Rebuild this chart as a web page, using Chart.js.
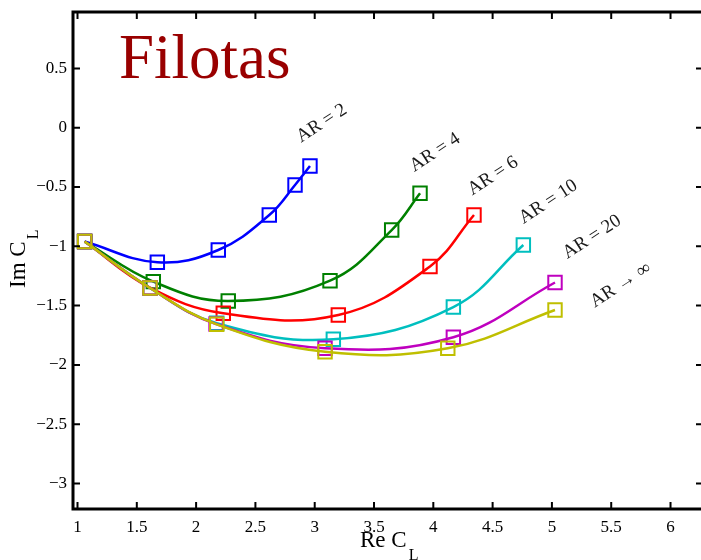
<!DOCTYPE html>
<html><head><meta charset="utf-8">
<script src="https://cdn.jsdelivr.net/npm/chart.js@4.4.0/dist/chart.umd.min.js"></script>
<style>html,body{margin:0;padding:0;background:#fff;}</style>
</head><body>
<canvas id="c" width="701" height="560" style="display:block;width:701px;height:560px"></canvas>
<script>
// ---- data ----
const xTicks = [1, 1.5, 2, 2.5, 3, 3.5, 4, 4.5, 5, 5.5, 6];
const xTickLabels = ['1', '1.5', '2', '2.5', '3', '3.5', '4', '4.5', '5', '5.5', '6'];
const yTicks = [-3, -2.5, -2, -1.5, -1, -0.5, 0, 0.5];
const yTickLabels = ['\u22123', '\u22122.5', '\u22122', '\u22121.5', '\u22121', '\u22120.5', '0', '0.5'];
const seriesNames = ['AR = 2', 'AR = 4', 'AR = 6', 'AR = 10', 'AR = 20', 'AR \u2192 \u221E'];
const reAR2 = [1.06, 1.673, 2.187, 2.617, 2.834, 2.960];
const imAR2 = [-0.96, -1.135, -1.031, -0.736, -0.483, -0.323];
const reAR4 = [1.06, 1.639, 2.271, 3.129, 3.649, 3.888];
const imAR4 = [-0.96, -1.298, -1.461, -1.290, -0.863, -0.553];
const reAR6 = [1.06, 1.611, 2.229, 3.199, 3.972, 4.343];
const imAR6 = [-0.96, -1.349, -1.565, -1.579, -1.170, -0.736];
const reAR10 = [1.06, 1.611, 2.174, 3.157, 4.169, 4.759];
const imAR10 = [-0.96, -1.352, -1.649, -1.784, -1.512, -0.989];
const reAR20 = [1.06, 1.611, 2.168, 3.087, 4.169, 5.026];
const imAR20 = [-0.96, -1.352, -1.655, -1.860, -1.767, -1.305];
const reARinf = [1.06, 1.611, 2.174, 3.087, 4.122, 5.026];
const imARinf = [-0.96, -1.352, -1.658, -1.889, -1.860, -1.537];
// label anchor positions (data coords)
const labelX = [3.059, 4.014, 4.503, 4.970, 5.338, 5.580];
const labelY = [0.037, -0.209, -0.407, -0.625, -0.922, -1.326];

const colors = ['#0000FF', '#008000', '#FF0000', '#00BFBF', '#BF00BF', '#BFBF00'];
const reAll = [reAR2, reAR4, reAR6, reAR10, reAR20, reARinf];
const imAll = [imAR2, imAR4, imAR6, imAR10, imAR20, imARinf];

const serif = '"Liberation Serif", "Times New Roman", serif';

const datasets = reAll.map((re, i) => ({
  label: seriesNames[i],
  data: re.map((v, k) => ({x: v, y: imAll[i][k]})),
  borderColor: colors[i],
  backgroundColor: 'rgba(0,0,0,0)',
  borderWidth: 2.5,
  tension: 0.4,
  pointStyle: 'rect',
  pointRadius: 9.5,
  pointBorderWidth: 2,
  pointBorderColor: colors[i],
  pointBackgroundColor: 'rgba(0,0,0,0)',
  order: 5 - i,
  showLine: true,
  fill: false
}));

const zeroPad = s => { s.paddingTop = 0; s.paddingBottom = 0; s.paddingLeft = 0; s.paddingRight = 0; };

const decor = {
  id: 'decor',
  afterDatasetsDraw(chart) {
    const {ctx, chartArea: a, scales: {x, y}} = chart;
    ctx.save();
    ctx.strokeStyle = '#000';
    ctx.lineWidth = 2;
    ctx.beginPath();
    xTicks.forEach(v => {
      const px = x.getPixelForValue(v);
      ctx.moveTo(px, a.bottom); ctx.lineTo(px, a.bottom - 7);
      ctx.moveTo(px, a.top); ctx.lineTo(px, a.top + 7);
    });
    yTicks.forEach(v => {
      const py = y.getPixelForValue(v);
      ctx.moveTo(a.left, py); ctx.lineTo(a.left + 7, py);
      ctx.moveTo(a.right + 2, py); ctx.lineTo(a.right - 5, py);
    });
    ctx.stroke();
    ctx.lineWidth = 3;
    ctx.beginPath();
    ctx.moveTo(a.right + 3, a.top);
    ctx.lineTo(a.left, a.top);
    ctx.lineTo(a.left, a.bottom);
    ctx.lineTo(a.right + 3, a.bottom);
    ctx.stroke();

    // title
    ctx.fillStyle = '#990000';
    ctx.font = '63px ' + serif;
    ctx.textAlign = 'left';
    ctx.textBaseline = 'alphabetic';
    ctx.fillText('Filotas', 119, 78);

    // AR labels
    ctx.fillStyle = '#1a1a1a';
    ctx.font = '19px ' + serif;
    ctx.textAlign = 'center';
    ctx.textBaseline = 'middle';
    seriesNames.forEach((s, i) => {
      ctx.save();
      ctx.translate(x.getPixelForValue(labelX[i]), y.getPixelForValue(labelY[i]));
      ctx.rotate(-33 * Math.PI / 180);
      ctx.fillText(s, 0, 0);
      ctx.restore();
    });

    // axis titles
    ctx.fillStyle = '#000';
    ctx.textAlign = 'left';
    ctx.textBaseline = 'alphabetic';
    ctx.font = '23px ' + serif;
    const mainX = 'Re C';
    const wx = ctx.measureText(mainX).width;
    ctx.fillText(mainX, 360, 547);
    ctx.font = '16px ' + serif;
    ctx.fillText('L', 360 + wx + 2, 560);

    ctx.save();
    ctx.translate(25, 288);
    ctx.rotate(-Math.PI / 2);
    ctx.font = '23px ' + serif;
    const mainY = 'Im C';
    const wy = ctx.measureText(mainY).width;
    ctx.fillText(mainY, 0, 0);
    ctx.font = '16px ' + serif;
    ctx.fillText('L', wy + 2, 13);
    ctx.restore();

    ctx.restore();
  }
};

new Chart(document.getElementById('c'), {
  type: 'line',
  data: {datasets},
  options: {
    responsive: false,
    devicePixelRatio: 1,
    animation: false,
    layout: {autoPadding: false, padding: {left: 0, top: 12, right: 0, bottom: 0}},
    plugins: {legend: {display: false}, tooltip: {enabled: false}},
    scales: {
      x: {
        type: 'linear',
        min: 0.962,
        max: 6.257,
        afterBuildTicks: s => { s.ticks = xTicks.map(v => ({value: v})); },
        afterFit: s => { s.height = 51; zeroPad(s); },
        grid: {display: false, drawTicks: false},
        border: {display: false},
        ticks: {
          autoSkip: false, maxRotation: 0, padding: 8, color: '#000',
          font: {family: serif, size: 17},
          callback: (v, i) => xTickLabels[i]
        }
      },
      y: {
        type: 'linear',
        min: -3.215,
        max: 0.9756,
        afterBuildTicks: s => { s.ticks = yTicks.map(v => ({value: v})); },
        afterFit: s => { s.width = 73; zeroPad(s); },
        grid: {display: false, drawTicks: false},
        border: {display: false},
        ticks: {
          autoSkip: false, padding: 6, color: '#000',
          font: {family: serif, size: 17},
          callback: (v, i) => yTickLabels[i]
        }
      }
    }
  },
  plugins: [decor]
});
</script>
</body></html>
